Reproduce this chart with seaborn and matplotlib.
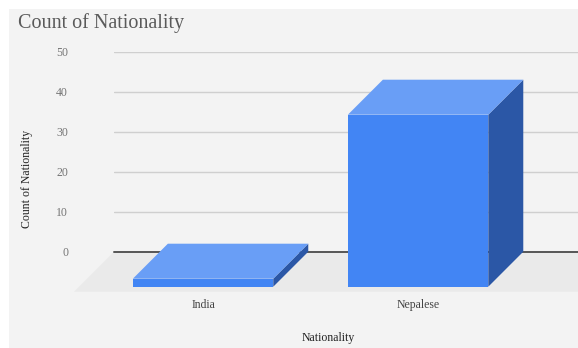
import numpy as np
import pandas as pd
import matplotlib
matplotlib.use("Agg")
import matplotlib.pyplot as plt
import seaborn as sns
from matplotlib.patches import Polygon, Rectangle
from matplotlib.transforms import Affine2D, IdentityTransform

# Data
categories = ["India", "Nepalese"]
counts = [2, 43]
y_ticks = [0, 10, 20, 30, 40, 50]

# Styling
FRONT = "#4285f4"
TOP = "#699ef6"
SIDE = "#2b57a6"
BG = "#f3f3f3"
FLOOR = "#eaeaea"
DEPTH = 35        # depth of the 3D extrusion, pixels
FLOOR_DEPTH = 40  # depth of the floor plane, pixels
W, H = 578, 348

sns.set_theme(style="white")
plt.rcParams["font.family"] = ["Liberation Serif", "DejaVu Serif"]

fig = plt.figure(figsize=(W / 100, H / 100), dpi=100)
fig.patch.set_facecolor("white")
fig.add_artist(Rectangle((9 / W, 0), 1 - 9 / W, 1 - 9 / H, transform=fig.transFigure,
                         facecolor=BG, edgecolor="none", zorder=-10))

# Axes = back wall of the 3D chart
ax = fig.add_axes([114 / W, (H - 251.7) / H, (W - 114) / W, 200 / H])
ax.patch.set_alpha(0)

df = pd.DataFrame({"Nationality": categories, "Count": counts})
sns.barplot(data=df, x="Nationality", y="Count", order=categories, color=FRONT,
            width=0.653, saturation=1, ax=ax, zorder=3)
bars = list(ax.patches)
ax.set_xlim(-0.577, 1.581)
ax.set_ylim(0, 50)

for s in ax.spines.values():
    s.set_visible(False)

ax.set_yticks(y_ticks)
ax.yaxis.grid(True, color="#cfcfcf", lw=1)
ax.set_axisbelow(True)
ax.axhline(0, color="#555555", lw=1.4, zorder=1.5, clip_on=False)
ax.tick_params(axis="y", length=0, pad=33, labelsize=8.5, labelcolor="#757575")

shift = np.array([-DEPTH, -DEPTH], dtype=float)

# Floor plane
x_lo, x_hi = ax.get_xlim()
fl_b = ax.transData.transform([(x_lo, 0), (x_hi, 0)])
back_l, back_r = fl_b[0], fl_b[1] + np.array([60, 0])
fshift = np.array([-FLOOR_DEPTH, -FLOOR_DEPTH], dtype=float)
ax.add_artist(Polygon([back_l, back_r, back_r + fshift, back_l + fshift], closed=True,
                      transform=IdentityTransform(), facecolor=FLOOR, edgecolor="none",
                      zorder=1, clip_on=False))

# Extrude each bar: front face is the seaborn bar moved forward, plus top and side faces
for bar in bars:
    x0, w, h = bar.get_x(), bar.get_width(), bar.get_height()
    (lx, by), (rx, ty) = ax.transData.transform([(x0, 0), (x0 + w, h)])
    btl, btr, bbr = np.array([lx, ty]), np.array([rx, ty]), np.array([rx, by])
    ftl, ftr, fbr = btl + shift, btr + shift, bbr + shift
    ax.add_artist(Polygon([ftr, btr, bbr, fbr], closed=True, transform=IdentityTransform(),
                          facecolor=SIDE, edgecolor="none", zorder=2.9, clip_on=False))
    ax.add_artist(Polygon([ftl, ftr, btr, btl], closed=True, transform=IdentityTransform(),
                          facecolor=TOP, edgecolor="none", zorder=2.9, clip_on=False))
    bar.set_transform(ax.transData + Affine2D().translate(-DEPTH, -DEPTH))
    bar.set_clip_on(False)
    bar.set_edgecolor("none")

# Category labels sit under the front faces
centers = ax.transData.transform(np.column_stack([np.arange(len(categories)), np.zeros(len(categories))]))
front_pos = ax.transData.inverted().transform(centers + shift)[:, 0]
ax.set_xticks(front_pos, categories)
ax.tick_params(axis="x", length=0, pad=34, labelsize=8.5, labelcolor="#444444")

ax.set_xlabel("Nationality", fontsize=8.5, color="#222222")
ax.xaxis.set_label_coords((328 - 114) / (W - 114), (251.7 - 338) / 200)
ax.xaxis.label.set_va("center")
ax.set_ylabel("Count of Nationality", fontsize=8.5, color="#222222")
ax.yaxis.set_label_coords((27 - 114) / (W - 114), (251.7 - 179) / 200)
ax.yaxis.label.set_va("center")

fig.text(18 / W, 1 - 23 / H, "Count of Nationality", fontsize=14.5, color="#5a5a5a",
         ha="left", va="center")

fig.savefig("out.png", dpi=100)
